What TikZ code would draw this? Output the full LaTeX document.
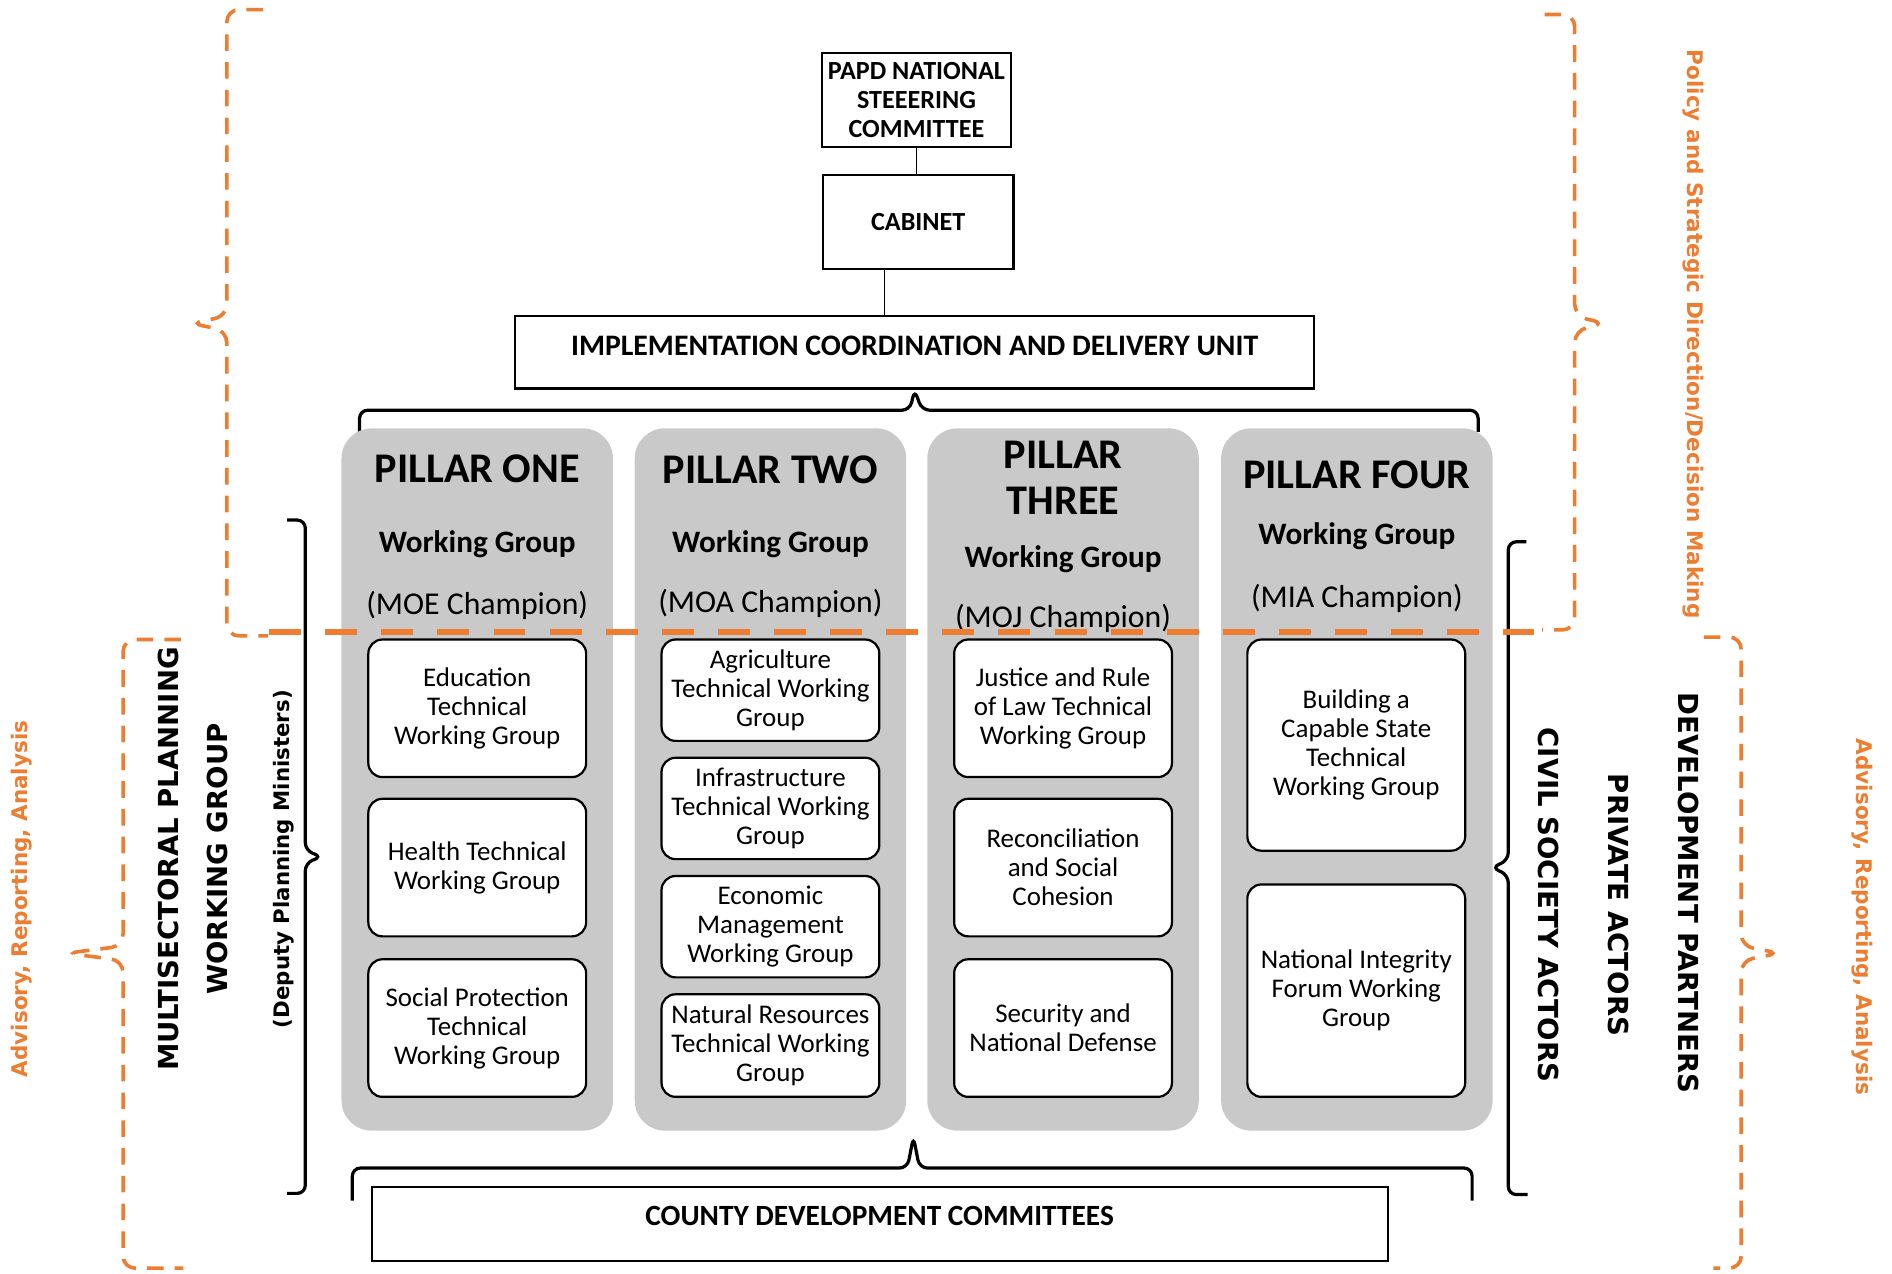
\documentclass[tikz,border=0pt]{standalone}
\usepackage{fontspec}
\setmainfont{Carlito}
\newfontfamily\vfont{DejaVu Sans}
\definecolor{advorange}{HTML}{ED7D31}
\definecolor{pillargray}{RGB}{201,201,201}

\begin{document}
\begin{tikzpicture}[x=0.6pt,y=-0.6pt,
  topbox/.style={draw, line width=1.1pt, inner sep=0pt, align=center,
    font=\bfseries\fontsize{13}{14.4}\selectfont},
  pillar/.style={fill=pillargray, rounded corners=15pt, inner sep=0pt,
    minimum width=135pt, minimum height=349.2pt},
  twg/.style={draw, fill=white, line width=1.1pt, rounded corners=7pt, inner sep=0pt,
    minimum width=108.3pt, align=center, font=\fontsize{13.4}{14.4}\selectfont},
  ptitle/.style={align=center, text depth=0pt, font=\bfseries\fontsize{21}{22.8}\selectfont},
  pgroup/.style={text depth=0pt, font=\bfseries\fontsize{15.5}{18}\selectfont},
  pchamp/.style={text depth=0pt, font=\fontsize{15.8}{18}\selectfont},
  bracketline/.style={line width=1.6pt, rounded corners=4pt},
  orangedash/.style={advorange, line width=1.8pt, dash pattern=on 8.3pt off 5.5pt, rounded corners=6pt},
  sidelabel/.style={align=center, font=\vfont\bfseries\fontsize{13.7}{24}\selectfont},
  orangelabel/.style={advorange, font=\vfont\bfseries\fontsize{10.7}{12}\selectfont}
]
\useasboundingbox (0,0) rectangle (1568,1055);

% top of the structure
\node[topbox, minimum width=94.2pt, minimum height=46.8pt] (papd) at (759.5,83)
  {PAPD NATIONAL\\STEEERING\\COMMITTEE};
\node[topbox, minimum width=94.8pt, minimum height=46.8pt] (cabinet) at (761,184) {CABINET};
\node[topbox, font=\bfseries\fontsize{14.8}{16}\selectfont, minimum width=397.2pt,
  minimum height=36pt, text depth=7pt] (icdu) at (758,292)
  {IMPLEMENTATION COORDINATION AND DELIVERY UNIT};
\draw[line width=0.6pt] (papd.south) -- (papd.south |- cabinet.north);
\coordinate (cabdrop) at (733,223);
\draw[line width=0.6pt] (cabdrop) -- (cabdrop |- icdu.north);
\draw[bracketline] (298,358) |- (754,340) -- (icdu.south) -- (764,340) -| (1225,358);

% the four pillars
\foreach \n/\x in {1/395.5, 2/638.5, 3/881, 4/1124.5}
  \node[pillar] (p\n) at (\x,646) {};

\node[ptitle] (t1) at (395.5,388) {PILLAR ONE};
\node[ptitle] (t2) at (638.5,389) {PILLAR TWO};
\node[ptitle] (t3) at (881,396) {PILLAR\\THREE};
\node[ptitle] (t4) at (1124.5,393) {PILLAR FOUR};
\foreach \n/\x/\y in {1/395.5/449, 2/638.5/449, 3/881/461, 4/1124.5/442}
  \node[pgroup] (wg\n) at (\x,\y) {Working Group};
\foreach \n/\x/\y/\m in {1/395.5/500/MOE, 2/638.5/498/MOA, 3/881/510/MOJ, 4/1124.5/494/MIA}
  \node[pchamp] (ch\n) at (\x,\y) {(\m\ Champion)};

% technical working groups
\foreach \nm/\x/\y/\h/\txt in {
  edu/395.5/587/68.4pt/{Education\\Technical\\Working Group},
  health/395.5/719/68.4pt/{Health Technical\\Working Group},
  social/395.5/852/68.4pt/{Social Protection\\Technical\\Working Group},
  agri/638.5/572/50.4pt/{Agriculture\\Technical Working\\Group},
  infra/638.5/670/50.4pt/{Infrastructure\\Technical Working\\Group},
  econ/638.5/768/50.4pt/{Economic\\Management\\Working Group},
  natres/638.5/866.5/51pt/{Natural Resources\\Technical Working\\Group},
  justice/881/587/68.4pt/{Justice and Rule\\of Law Technical\\Working Group},
  recon/881/719/68.4pt/{Reconciliation\\and Social\\Cohesion},
  security/881/852/68.4pt/{Security and\\National Defense},
  capable/1124/617.5/105pt/{Building a\\Capable State\\Technical\\Working Group},
  integrity/1124/821/105.6pt/{National Integrity\\Forum Working\\Group}}
  \node[twg, minimum height=\h] (\nm) at (\x,\y) {\txt};

% bottom
\node[topbox, line width=0.9pt, font=\bfseries\fontsize{14.6}{16}\selectfont, minimum width=505.2pt,
  minimum height=36.6pt, text depth=8pt] (county) at (729,1014.5) {COUNTY DEVELOPMENT COMMITTEES};
\draw[bracketline] (292,995) |- (752,968) -- (757,942) -- (762,968) -| (1220,995);

% side groups
\draw[bracketline] (238,431) -| (253,705) -- (267,710) -- (253,715) |- (238,989);
\draw[bracketline] (1265,449) -| (1250,713) -- (1236,719) -- (1250,725) |- (1266,990);
\node[sidelabel, rotate=90] (msp) at (160,712) {MULTISECTORAL PLANNING\\WORKING GROUP};
\node[sidelabel, rotate=90, font=\vfont\bfseries\fontsize{10.6}{12}\selectfont] (dpm) at (235,712)
  {(Deputy Planning Ministers)};
\node[sidelabel, rotate=-90] (csa) at (1283,750) {CIVIL SOCIETY ACTORS};
\node[sidelabel, rotate=-90] (pva) at (1341,750) {PRIVATE ACTORS};
\node[sidelabel, rotate=-90] (dvp) at (1399,740) {DEVELOPMENT PARTNERS};

% orange brackets
\draw[orangedash] (218,8) -| (188,262) -- (158,268) -- (188,274) |- (222,527);
\draw[orangedash] (1280,12) -| (1305,262) -- (1330,268) -- (1305,274) |- (1278,522);
\draw[orangedash] (150,530) -| (102,784) -- (55,790) -- (102,796) |- (152,1051);
\draw[orangedash] (1412,528) -| (1443,784) -- (1475,790) -- (1443,796) |- (1420,1051);
\draw[advorange, line width=3pt, dash pattern=on 15.9pt off 12pt] (223,524) -- (1271,524);
\node[orangelabel, rotate=-90] (policy) at (1403,277) {Policy and Strategic Direction/Decision Making};
\node[orangelabel, rotate=90] (advl) at (18,745) {Advisory, Reporting, Analysis};
\node[orangelabel, rotate=-90] (advr) at (1543,760) {Advisory, Reporting, Analysis};
\end{tikzpicture}
\end{document}
